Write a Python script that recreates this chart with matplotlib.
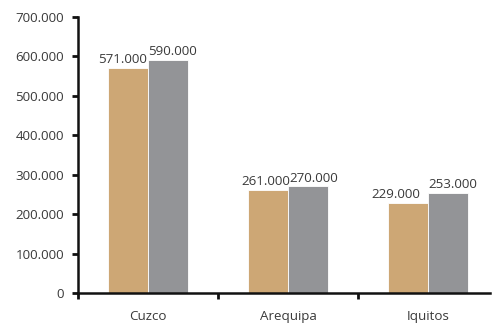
import numpy as np
import matplotlib.pyplot as plt
from matplotlib.ticker import FuncFormatter

plt.rcParams['font.family'] = ['Open Sans', 'DejaVu Sans']

# Datos
ciudades = ['Cuzco', 'Arequipa', 'Iquitos']
serie_a = [571000, 261000, 229000]
serie_b = [590000, 270000, 253000]

color_a = '#cda775'
color_b = '#939497'
texto = '#3a3a3a'
fs = 9.6

fig = plt.figure(figsize=(4.92, 3.25), dpi=100)
ax = fig.add_axes([0.1585, 0.0985, 0.8375, 0.8495])

x = np.arange(len(ciudades))
ancho = 0.286
ax.bar(x - ancho / 2, serie_a, ancho, color=color_a, edgecolor='white', linewidth=0.6)
ax.bar(x + ancho / 2, serie_b, ancho, color=color_b, edgecolor='white', linewidth=0.6)

def miles(v, pos=None):
    return '0' if v == 0 else f'{int(v):,}'.replace(',', '.')

# Etiquetas de valor sobre cada barra
desplaz_a = [-0.04, -0.02, -0.09]
desplaz_b = [0.03, 0.04, 0.03]
for i in x:
    ax.text(i - ancho / 2 + desplaz_a[i], serie_a[i] + 5000, miles(serie_a[i]),
            ha='center', va='bottom', fontsize=fs, color=texto)
    ax.text(i + ancho / 2 + desplaz_b[i], serie_b[i] + 5000, miles(serie_b[i]),
            ha='center', va='bottom', fontsize=fs, color=texto)

ax.set_xlim(-0.5, 2.44)
ax.set_ylim(0, 700000)
ax.set_yticks(np.arange(0, 700001, 100000))
ax.yaxis.set_major_formatter(FuncFormatter(miles))

ax.set_xticks(x)
ax.set_xticklabels(ciudades)
ax.set_xticks([-0.5, 0.5, 1.5], minor=True)
ax.tick_params(axis='x', which='major', length=0, pad=12, labelsize=fs, labelcolor=texto)
ax.tick_params(axis='x', which='minor', length=4, width=2, direction='out', color='#111111')
ax.tick_params(axis='y', length=4, width=2, direction='out', color='#111111',
               labelsize=fs, labelcolor=texto, pad=6)

for lado in ['top', 'right']:
    ax.spines[lado].set_visible(False)
for lado in ['left', 'bottom']:
    ax.spines[lado].set_linewidth(1.8)
    ax.spines[lado].set_color('#111111')

fig.savefig('out.png', dpi=100)
